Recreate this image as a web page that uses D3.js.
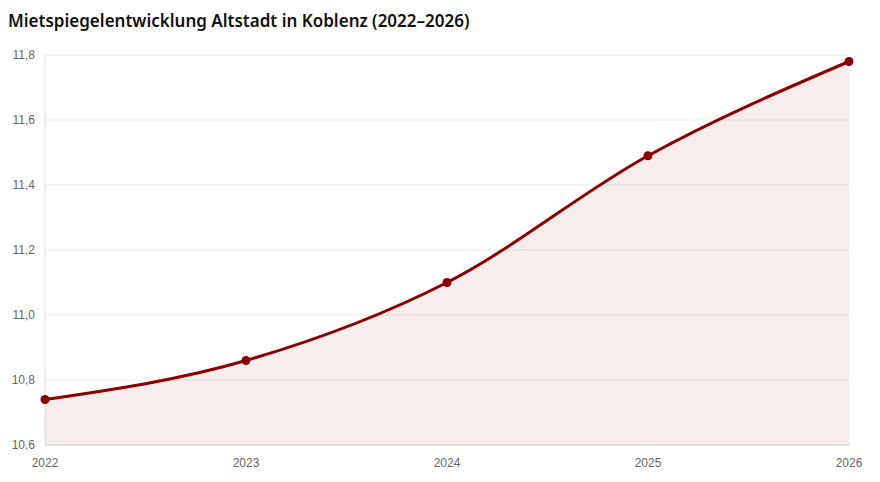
<!DOCTYPE html>
<html>
<head>
<meta charset="utf-8">
<script src="https://cdn.jsdelivr.net/npm/d3@7"></script>
<style>
  body { margin: 0; background: #fff; }
  svg { display: block; }
</style>
</head>
<body>
<svg id="chart"></svg>
<script>
const width = 880;
const height = 482;

const years = [2022, 2023, 2024, 2025, 2026];
const rents = [10.74, 10.86, 11.10, 11.49, 11.78];
const yTicks = [10.6, 10.8, 11.0, 11.2, 11.4, 11.6, 11.8];

const margin = {top: 55, right: 31, bottom: 37, left: 45};

const svg = d3.select('#chart')
    .attr('width', width)
    .attr('height', height);

svg.append('text')
    .attr('x', 8)
    .attr('y', 27)
    .attr('font-family', '"Noto Sans", sans-serif')
    .attr('font-weight', 600)
    .attr('font-size', 17)
    .attr('fill', '#111')
    .text('Mietspiegelentwicklung Altstadt in Koblenz (2022–2026)');

const x = d3.scalePoint()
    .domain(years)
    .range([margin.left, width - margin.right]);

const y = d3.scaleLinear()
    .domain([10.6, 11.8])
    .range([height - margin.bottom, margin.top]);

const fmt = d => d.toFixed(1).replace('.', ',');

// gridlines
svg.append('g')
    .selectAll('line')
    .data(yTicks)
    .enter().append('line')
    .attr('x1', margin.left)
    .attr('x2', width - margin.right)
    .attr('y1', d => y(d))
    .attr('y2', d => y(d))
    .attr('stroke', '#ebebeb')
    .attr('stroke-width', 1);

// left axis line
svg.append('line')
    .attr('x1', margin.left).attr('x2', margin.left)
    .attr('y1', margin.top).attr('y2', height - margin.bottom)
    .attr('stroke', '#e0e0e0');

// y labels
svg.append('g')
    .selectAll('text')
    .data(yTicks)
    .enter().append('text')
    .attr('x', margin.left - 10)
    .attr('y', d => y(d) + 4)
    .attr('text-anchor', 'end')
    .attr('font-family', '"Liberation Sans", Arial, sans-serif')
    .attr('font-size', 12)
    .attr('fill', '#666')
    .text(fmt);

// x labels
svg.append('g')
    .selectAll('text')
    .data(years)
    .enter().append('text')
    .attr('x', d => x(d))
    .attr('y', height - margin.bottom + 22)
    .attr('text-anchor', 'middle')
    .attr('font-family', '"Liberation Sans", Arial, sans-serif')
    .attr('font-size', 12)
    .attr('fill', '#666')
    .text(d => d);

const pts = years.map((yr, i) => ({year: yr, value: rents[i]}));

const area = d3.area()
    .x(d => x(d.year))
    .y0(y(10.6))
    .y1(d => y(d.value))
    .curve(d3.curveMonotoneX);

const line = d3.line()
    .x(d => x(d.year))
    .y(d => y(d.value))
    .curve(d3.curveMonotoneX);

svg.append('path')
    .datum(pts)
    .attr('d', area)
    .attr('fill', 'rgba(139, 0, 0, 0.07)');

// bottom axis line
svg.append('line')
    .attr('x1', margin.left).attr('x2', width - margin.right)
    .attr('y1', y(10.6)).attr('y2', y(10.6))
    .attr('stroke', '#cfcfcf');

svg.append('path')
    .datum(pts)
    .attr('d', line)
    .attr('fill', 'none')
    .attr('stroke', '#8b0000')
    .attr('stroke-width', 3);

svg.append('g')
    .selectAll('circle')
    .data(pts)
    .enter().append('circle')
    .attr('cx', d => x(d.year))
    .attr('cy', d => y(d.value))
    .attr('r', 4.5)
    .attr('fill', '#8b0000');
</script>
</body>
</html>
